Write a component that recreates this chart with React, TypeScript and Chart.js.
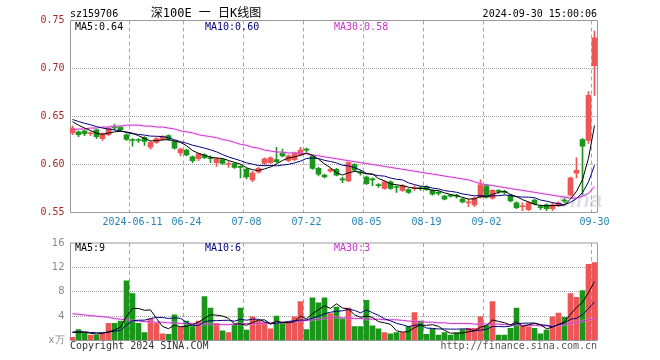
import React, { useEffect, useRef } from 'react';
import { Chart, registerables } from 'chart.js';

Chart.register(...registerables);

// ---------- data ----------
const dates = [
  '2024-05-27','2024-05-28','2024-05-29','2024-05-30','2024-05-31','2024-06-03','2024-06-04','2024-06-05','2024-06-06','2024-06-07',
  '2024-06-11','2024-06-12','2024-06-13','2024-06-14','2024-06-17','2024-06-18','2024-06-19','2024-06-20','2024-06-21','2024-06-24',
  '2024-06-25','2024-06-26','2024-06-27','2024-06-28','2024-07-01','2024-07-02','2024-07-03','2024-07-04','2024-07-05','2024-07-08',
  '2024-07-09','2024-07-10','2024-07-11','2024-07-12','2024-07-15','2024-07-16','2024-07-17','2024-07-18','2024-07-19','2024-07-22',
  '2024-07-23','2024-07-24','2024-07-25','2024-07-26','2024-07-29','2024-07-30','2024-07-31','2024-08-01','2024-08-02','2024-08-05',
  '2024-08-06','2024-08-07','2024-08-08','2024-08-09','2024-08-12','2024-08-13','2024-08-14','2024-08-15','2024-08-16','2024-08-19',
  '2024-08-20','2024-08-21','2024-08-22','2024-08-23','2024-08-26','2024-08-27','2024-08-28','2024-08-29','2024-08-30','2024-09-02',
  '2024-09-03','2024-09-04','2024-09-05','2024-09-06','2024-09-09','2024-09-10','2024-09-11','2024-09-12','2024-09-13','2024-09-18',
  '2024-09-19','2024-09-20','2024-09-23','2024-09-24','2024-09-25','2024-09-26','2024-09-27','2024-09-30',
];

const tickDates = ['2024-06-11','2024-06-24','2024-07-08','2024-07-22','2024-08-05','2024-08-19','2024-09-02','2024-09-30'];
const tickTexts = ['2024-06-11','06-24','07-08','07-22','08-05','08-19','09-02','09-30'];

const opens = [
  0.633,0.634,0.635,0.632,0.636,0.627,0.631,0.639,0.639,0.631,
  0.626,0.626,0.628,0.618,0.623,0.626,0.630,0.624,0.612,0.615,
  0.608,0.606,0.610,0.607,0.602,0.605,0.600,0.601,0.598,0.595,
  0.584,0.592,0.601,0.602,0.605,0.612,0.604,0.605,0.610,0.616,
  0.609,0.596,0.589,0.593,0.595,0.585,0.583,0.600,0.592,0.587,
  0.585,0.579,0.575,0.582,0.577,0.573,0.574,0.575,0.576,0.577,
  0.573,0.571,0.567,0.568,0.568,0.564,0.560,0.558,0.566,0.578,
  0.565,0.573,0.572,0.568,0.560,0.556,0.553,0.563,0.556,0.558,
  0.554,0.557,0.563,0.568,0.591,0.626,0.625,0.703,
];
const highs = [
  0.640,0.635,0.636,0.634,0.637,0.633,0.639,0.642,0.640,0.632,
  0.627,0.627,0.629,0.624,0.628,0.630,0.631,0.625,0.617,0.616,
  0.609,0.612,0.611,0.609,0.607,0.606,0.603,0.602,0.599,0.596,
  0.593,0.597,0.607,0.608,0.618,0.616,0.610,0.613,0.618,0.617,
  0.610,0.597,0.590,0.596,0.596,0.587,0.603,0.601,0.594,0.588,
  0.586,0.580,0.583,0.583,0.578,0.579,0.575,0.578,0.577,0.578,
  0.574,0.572,0.568,0.569,0.569,0.565,0.564,0.566,0.584,0.579,
  0.574,0.574,0.573,0.569,0.561,0.560,0.561,0.564,0.558,0.559,
  0.560,0.561,0.565,0.587,0.607,0.627,0.676,0.739,
];
const lows = [
  0.631,0.629,0.630,0.630,0.627,0.625,0.630,0.636,0.635,0.625,
  0.619,0.623,0.620,0.616,0.622,0.625,0.625,0.616,0.609,0.609,
  0.602,0.604,0.606,0.602,0.598,0.600,0.597,0.596,0.586,0.585,
  0.582,0.591,0.599,0.601,0.602,0.608,0.603,0.604,0.609,0.613,
  0.595,0.588,0.586,0.592,0.588,0.581,0.582,0.593,0.589,0.579,
  0.578,0.576,0.574,0.574,0.571,0.572,0.570,0.573,0.573,0.573,
  0.568,0.568,0.563,0.566,0.565,0.560,0.556,0.556,0.565,0.565,
  0.564,0.570,0.569,0.561,0.554,0.552,0.552,0.558,0.553,0.552,
  0.552,0.556,0.560,0.567,0.586,0.568,0.622,0.672,
];
const closes = [
  0.638,0.631,0.632,0.633,0.629,0.632,0.638,0.638,0.636,0.626,
  0.625,0.625,0.624,0.623,0.627,0.629,0.626,0.617,0.616,0.610,
  0.604,0.611,0.607,0.606,0.606,0.601,0.601,0.597,0.597,0.587,
  0.591,0.596,0.606,0.607,0.603,0.609,0.609,0.612,0.615,0.615,
  0.596,0.590,0.587,0.595,0.589,0.584,0.602,0.594,0.591,0.580,
  0.584,0.578,0.582,0.575,0.576,0.578,0.571,0.576,0.575,0.574,
  0.569,0.570,0.564,0.567,0.567,0.561,0.561,0.565,0.579,0.566,
  0.573,0.572,0.571,0.562,0.555,0.557,0.560,0.559,0.555,0.554,
  0.558,0.560,0.562,0.586,0.594,0.619,0.672,0.732,
];
// closes of the trading days just before the visible window (estimated from the MA lines)
const priorCloses = [0.652,0.650,0.649,0.648,0.647,0.649,0.647,0.646,0.643];

const ma30Price = [
  0.636,0.637,0.637,0.638,0.638,0.639,0.639,0.640,0.640,0.641,
  0.641,0.641,0.640,0.640,0.639,0.639,0.638,0.637,0.635,0.634,
  0.633,0.631,0.630,0.629,0.628,0.626,0.625,0.623,0.621,0.620,
  0.618,0.617,0.615,0.614,0.613,0.613,0.612,0.612,0.612,0.611,
  0.610,0.609,0.608,0.607,0.606,0.605,0.604,0.603,0.602,0.601,
  0.600,0.599,0.598,0.597,0.596,0.595,0.594,0.593,0.592,0.591,
  0.590,0.589,0.588,0.587,0.586,0.585,0.584,0.582,0.580,0.579,
  0.578,0.577,0.576,0.575,0.574,0.573,0.572,0.571,0.570,0.569,
  0.568,0.567,0.566,0.565,0.565,0.567,0.570,0.577,
];

// volume, 万 (x10,000)
const volumes = [
  0.5,1.8,1.2,0.9,0.9,1.2,2.8,2.8,3.2,9.8,
  7.7,2.8,1.3,3.5,2.8,1.1,1.0,4.2,2.2,3.2,
  2.3,3.2,7.2,5.3,2.8,1.6,1.3,2.6,5.3,1.7,
  3.9,3.2,2.9,1.9,4.0,2.8,2.9,3.9,6.4,1.8,
  7.0,6.2,7.0,4.4,5.5,3.6,5.3,2.3,2.3,6.6,
  2.4,1.9,1.3,1.1,1.3,1.3,2.3,4.6,3.2,1.0,
  1.9,0.9,1.3,0.9,1.2,1.8,2.0,2.0,3.9,2.5,
  6.4,0.9,0.9,2.0,5.3,2.4,2.3,2.0,1.1,1.7,
  3.9,4.5,3.8,7.7,7.1,8.2,12.5,12.8,
];
const priorVolumes = [1.5,1.2,2.0,1.4,1.3,1.6,1.2,1.8,1.5];

const ma30Vol = [
  4.4,4.3,4.2,4.1,4.0,3.9,3.8,3.6,3.5,3.4,
  3.3,3.2,3.1,3.1,3.0,3.0,2.9,2.9,2.8,2.8,
  2.8,2.7,2.7,2.7,2.6,2.6,2.6,2.7,2.7,2.8,
  2.8,2.8,2.9,2.9,2.9,3.0,3.0,3.1,3.2,3.3,
  3.4,3.5,3.6,3.8,3.8,3.7,3.7,3.6,3.6,3.5,
  3.5,3.5,3.4,3.4,3.4,3.3,3.2,3.1,3.1,3.0,
  3.0,2.9,2.9,2.8,2.8,2.8,2.8,2.7,2.7,2.7,
  2.7,2.7,2.6,2.6,2.6,2.5,2.5,2.5,2.4,2.4,
  2.4,2.5,2.6,2.8,3.0,3.2,3.4,3.6,
];

const priceTicks = [0.55, 0.6, 0.65, 0.7, 0.75];
const volTicks = [0, 4, 8, 12, 16];

const symbolText = 'sz159706';
const titleText = '深100E 一 日K线图';
const timeText = '2024-09-30 15:00:06';
const priceLegend = ['MA5:0.64', 'MA10:0.60', 'MA30:0.58'];
const volLegend = ['MA5:9', 'MA10:6', 'MA30:3'];
const copyrightText = 'Copyright 2024 SINA.COM';
const urlText = 'http://finance.sina.com.cn';
const unitText = 'x万';

// ---------- styles ----------
const RED = '#ec5656';
const GREEN = '#1a961a';
const C_MA5 = '#000000';
const C_MA10 = '#000080';
const C_MA30 = '#c833c8';
const C_GLOW = 'rgba(255,170,255,0.3)';
const MONO = '"DejaVu Sans Mono", "Noto Sans CJK SC", monospace';

function movingAvg(values: number[], prior: number[], n: number): number[] {
  const all = [...prior, ...values];
  return values.map((_, i) => {
    const end = prior.length + i;
    let s = 0;
    for (let k = end - n + 1; k <= end; k++) s += all[k];
    return s / n;
  });
}

const tickIndex = new Map<number, string>();
tickDates.forEach((d, k) => tickIndex.set(dates.indexOf(d), tickTexts[k]));

const candleColors = closes.map((c, i) => (c >= opens[i] ? RED : GREEN));

const xScale = (showTicks: boolean) => ({
  type: 'category' as const,
  offset: true,
  grid: {
    offset: true,
    drawTicks: false,
    lineWidth: 1,
    color: (c: any) => (tickIndex.has(c.index) ? '#a8a8a8' : 'rgba(0,0,0,0)'),
  },
  border: { display: false, dash: [4, 3] },
  ticks: {
    display: showTicks,
    autoSkip: false,
    maxRotation: 0,
    minRotation: 0,
    padding: 4,
    color: '#2484b4',
    font: { family: MONO, size: 10 },
    callback: (_v: any, i: number) => tickIndex.get(i) ?? '',
  },
  afterFit: (s: any) => { s.height = 19.5; },
});

function framePlugin(extra?: (chart: any) => void) {
  return {
    id: 'frame',
    beforeDatasetsDraw(chart: any) {
      const { ctx, chartArea: a } = chart;
      ctx.save();
      ctx.strokeStyle = '#9a9a9a';
      ctx.lineWidth = 1;
      ctx.beginPath();
      ctx.moveTo(a.left + 1, a.top);
      ctx.lineTo(a.right, a.top);
      ctx.lineTo(a.right, a.bottom);
      ctx.lineTo(a.left + 1, a.bottom);
      ctx.closePath();
      ctx.stroke();
      if (extra) extra(chart);
      ctx.restore();
    },
  };
}

function text(ctx: any, s: string, x: number, y: number, color: string, font: string, align: string = 'left') {
  ctx.font = font;
  ctx.fillStyle = color;
  ctx.textAlign = align;
  ctx.textBaseline = 'alphabetic';
  ctx.fillText(s, x, y);
}

export default function App() {
  const priceRef = useRef<HTMLCanvasElement>(null);
  const volRef = useRef<HTMLCanvasElement>(null);

  useEffect(() => {
    const ma5 = movingAvg(closes, priorCloses, 5);
    const ma10 = movingAvg(closes, priorCloses, 10);
    const vma5 = movingAvg(volumes, priorVolumes, 5);
    const vma10 = movingAvg(volumes, priorVolumes, 10);

    const lineDs = (label: string, data: number[], color: string, width = 1, order = 0) => ({
      type: 'line' as const,
      label,
      data,
      borderColor: color,
      borderWidth: width,
      pointRadius: 0,
      fill: false,
      tension: 0,
      order,
    });

    const priceChart = new Chart(priceRef.current!, {
      type: 'bar',
      data: {
        labels: dates,
        datasets: [
          lineDs('MA5', ma5, C_MA5),
          lineDs('MA10', ma10, C_MA10),
          lineDs('MA30', ma30Price, C_MA30),
          lineDs('MA30glow', ma30Price, C_GLOW, 3, 1),
          {
            type: 'bar',
            label: 'body',
            data: opens.map((o, i) => [o, closes[i]]),
            backgroundColor: candleColors,
            barThickness: 5,
            grouped: false,
            minBarLength: 1,
            order: 2,
          } as any,
          {
            type: 'bar',
            label: 'wick',
            data: lows.map((l, i) => [l, highs[i]]),
            backgroundColor: candleColors,
            barThickness: 1,
            grouped: false,
            order: 3,
          } as any,
        ],
      },
      options: {
        responsive: false,
        animation: false,
        devicePixelRatio: 1,
        layout: { padding: { left: 0, right: 62.5, top: 20.5, bottom: 0 } },
        plugins: { legend: { display: false }, tooltip: { enabled: false } },
        scales: {
          x: xScale(true),
          y: {
            min: priceTicks[0],
            max: priceTicks[priceTicks.length - 1],
            afterBuildTicks: (s: any) => { s.ticks = priceTicks.map((v) => ({ value: v })); },
            ticks: {
              color: '#a82828',
              font: { family: MONO, size: 10 },
              padding: 5,
              callback: (v: any) => Number(v).toFixed(2),
            },
            grid: {
              drawTicks: false,
              color: (c: any) =>
                c.tick && c.tick.value > priceTicks[0] + 1e-6 && c.tick.value < priceTicks[priceTicks.length - 1] - 1e-6
                  ? '#a0a0a0'
                  : 'rgba(0,0,0,0)',
            },
            border: { display: false, dash: [1, 1] },
            afterFit: (s: any) => { s.width = 69.5; },
          },
        },
      } as any,
      plugins: [
        framePlugin((chart: any) => {
          const { ctx } = chart;
          ctx.font = 'italic bold 22px "Liberation Sans", Arial, sans-serif';
          ctx.fillStyle = 'rgba(185,185,200,0.45)';
          ctx.textAlign = 'left';
          ctx.fillText('sina', 558, 207);
        }),
        {
          id: 'texts',
          afterDraw(chart: any) {
            const { ctx } = chart;
            ctx.save();
            text(ctx, symbolText, 70, 17, '#000', `10px ${MONO}`);
            text(ctx, titleText, 206, 17, '#000', `12px ${MONO}`, 'center');
            text(ctx, timeText, 597, 17, '#000', `10px ${MONO}`, 'right');
            text(ctx, priceLegend[0], 75, 30, C_MA5, `10px ${MONO}`);
            text(ctx, priceLegend[1], 205, 30, C_MA10, `10px ${MONO}`);
            text(ctx, priceLegend[2], 334, 30, C_MA30, `10px ${MONO}`);
            ctx.restore();
          },
        },
      ],
    });

    const volChart = new Chart(volRef.current!, {
      type: 'bar',
      data: {
        labels: dates,
        datasets: [
          lineDs('MA5', vma5, C_MA5),
          lineDs('MA10', vma10, C_MA10),
          lineDs('MA30', ma30Vol, C_MA30),
          lineDs('MA30glow', ma30Vol, C_GLOW, 3, 1),
          {
            type: 'bar',
            label: 'volume',
            data: volumes,
            backgroundColor: candleColors,
            barThickness: 5,
            grouped: false,
            order: 2,
          } as any,
        ],
      },
      options: {
        responsive: false,
        animation: false,
        devicePixelRatio: 1,
        layout: { padding: { left: 0, right: 62.5, top: 8.5, bottom: 0 } },
        plugins: { legend: { display: false }, tooltip: { enabled: false } },
        scales: {
          x: xScale(false),
          y: {
            min: volTicks[0],
            max: volTicks[volTicks.length - 1],
            afterBuildTicks: (s: any) => { s.ticks = volTicks.map((v) => ({ value: v })); },
            ticks: {
              color: '#8a8a8a',
              font: { family: '"DejaVu Sans", sans-serif', size: 10 },
              padding: 5,
              callback: (v: any) => (Number(v) === 0 ? unitText : String(v)),
            },
            grid: {
              drawTicks: false,
              color: (c: any) =>
                c.tick && c.tick.value > volTicks[0] && c.tick.value < volTicks[volTicks.length - 1]
                  ? '#a0a0a0'
                  : 'rgba(0,0,0,0)',
            },
            border: { display: false, dash: [1, 1] },
            afterFit: (s: any) => { s.width = 69.5; },
          },
        },
      } as any,
      plugins: [
        framePlugin(),
        {
          id: 'texts',
          afterDraw(chart: any) {
            const { ctx } = chart;
            ctx.save();
            text(ctx, volLegend[0], 75, 18.5, C_MA5, `10px ${MONO}`);
            text(ctx, volLegend[1], 205, 18.5, C_MA10, `10px ${MONO}`);
            text(ctx, volLegend[2], 334, 18.5, C_MA30, `10px ${MONO}`);
            text(ctx, copyrightText, 70, 117, '#333', `10px ${MONO}`);
            text(ctx, urlText, 597, 117, '#555', `10px ${MONO}`, 'right');
            ctx.restore();
          },
        },
      ],
    });

    return () => {
      priceChart.destroy();
      volChart.destroy();
    };
  }, []);

  return (
    <div style={{ position: 'absolute', left: 0, top: 0, width: 660, height: 360, background: '#fff' }}>
      <canvas
        ref={priceRef}
        width={660}
        height={232}
        style={{ position: 'absolute', left: 0, top: 0, width: 660, height: 232 }}
      />
      <canvas
        ref={volRef}
        width={660}
        height={128}
        style={{ position: 'absolute', left: 0, top: 232, width: 660, height: 128 }}
      />
    </div>
  );
}
